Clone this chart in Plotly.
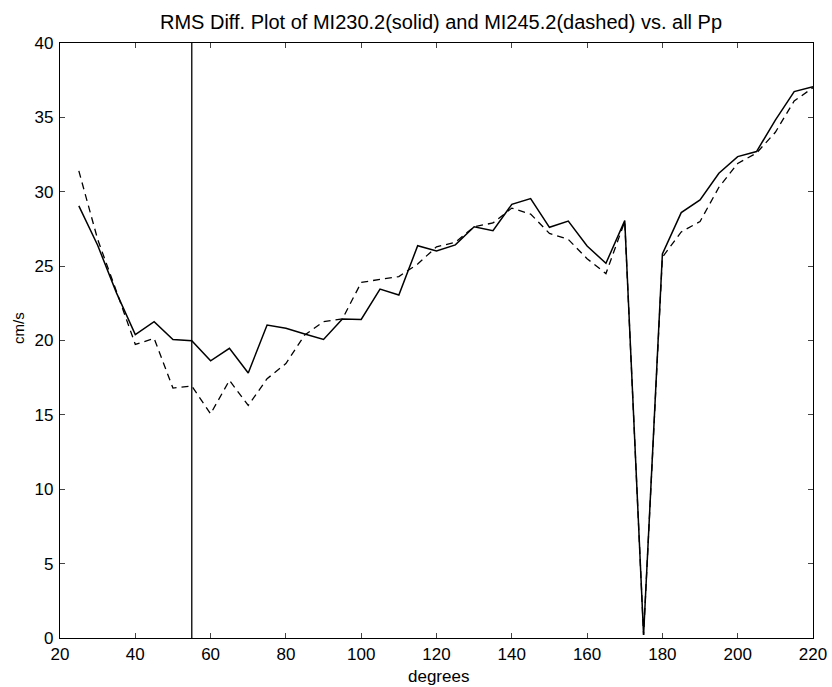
import plotly.graph_objects as go

degrees = [25, 30, 35, 40, 45, 50, 55, 60, 65, 70, 75, 80, 85, 90, 95, 100,
           105, 110, 115, 120, 125, 130, 135, 140, 145, 150, 155, 160, 165, 170,
           175, 180, 185, 190, 195, 200, 205, 210, 215, 220]

mi230_solid = [29.05, 26.4, 23.2, 20.4, 21.27, 20.07, 19.98, 18.63, 19.47, 17.82,
               21.04, 20.82, 20.44, 20.07, 21.45, 21.42, 23.46, 23.06, 26.37, 26.02,
               26.43, 27.65, 27.38, 29.15, 29.54, 27.61, 28.03, 26.35, 25.19, 28.06,
               0.2, 25.82, 28.6, 29.45, 31.24, 32.36, 32.7, 34.82, 36.73, 37.06]

mi245_dashed = [31.4, 26.8, 23.3, 19.74, 20.14, 16.8, 16.94, 15.07, 17.32, 15.63,
                17.43, 18.45, 20.37, 21.27, 21.45, 23.9, 24.11, 24.3, 25.14, 26.3,
                26.6, 27.65, 27.9, 28.9, 28.5, 27.2, 26.8, 25.5, 24.5, 28.0,
                0.2, 25.6, 27.3, 28.0, 30.3, 31.9, 32.6, 34.0, 36.1, 37.0]

marker_degree = 55
y_range = [0, 40]
x_range = [20, 220]

title_text = "RMS Diff. Plot of MI230.2(solid) and MI245.2(dashed) vs. all Pp"
x_title = "degrees"
y_title = "cm/s"

fig = go.Figure()
fig.add_trace(go.Scatter(x=[marker_degree, marker_degree], y=y_range, mode="lines",
                         line=dict(color="black", width=1.3), showlegend=False))
fig.add_trace(go.Scatter(x=degrees, y=mi245_dashed, mode="lines",
                         line=dict(color="black", width=1.3, dash="7px,5px"),
                         showlegend=False))
fig.add_trace(go.Scatter(x=degrees, y=mi230_solid, mode="lines",
                         line=dict(color="black", width=1.5), showlegend=False))

font_family = "Liberation Sans, Arial, sans-serif"

W, H = 832, 687
L, R, T, B = 60, 19, 43, 49
pw, ph = W - L - R, H - T - B

fig.add_annotation(text=x_title, xref="paper", yref="paper",
                   x=(438 - L) / pw, y=(H - B - 676) / ph,
                   xanchor="center", yanchor="middle", showarrow=False,
                   font=dict(size=17, family=font_family, color="black"))
fig.add_annotation(text=y_title, xref="paper", yref="paper",
                   x=(18 - L) / pw, y=(H - B - 328) / ph,
                   xanchor="center", yanchor="middle", showarrow=False, textangle=-90,
                   font=dict(size=15, family=font_family, color="black"))

fig.update_layout(
    width=W, height=H,
    margin=dict(l=L, r=R, t=T, b=B, autoexpand=False),
    paper_bgcolor="white", plot_bgcolor="white",
    font=dict(family=font_family, color="black", size=17),
    title=dict(text=title_text, xref="container", yref="container",
               x=441 / W, xanchor="center",
               y=1 - 22 / H, yanchor="middle",
               font=dict(size=20, family=font_family, color="black")),
    xaxis=dict(range=x_range, tick0=20, dtick=20, ticks="inside", ticklen=5,
               showline=True, linecolor="black", linewidth=1.3, mirror="ticks",
               showgrid=False, zeroline=False, automargin=False),
    yaxis=dict(range=y_range, tick0=0, dtick=5, ticks="inside", ticklen=5,
               showline=True, linecolor="black", linewidth=1.3, mirror="ticks",
               showgrid=False, zeroline=False, ticklabelstandoff=2, automargin=False),
)

fig.write_html("out.html", config={"displayModeBar": False},
               post_script="document.body.style.margin='0';document.body.style.overflow='hidden';")
